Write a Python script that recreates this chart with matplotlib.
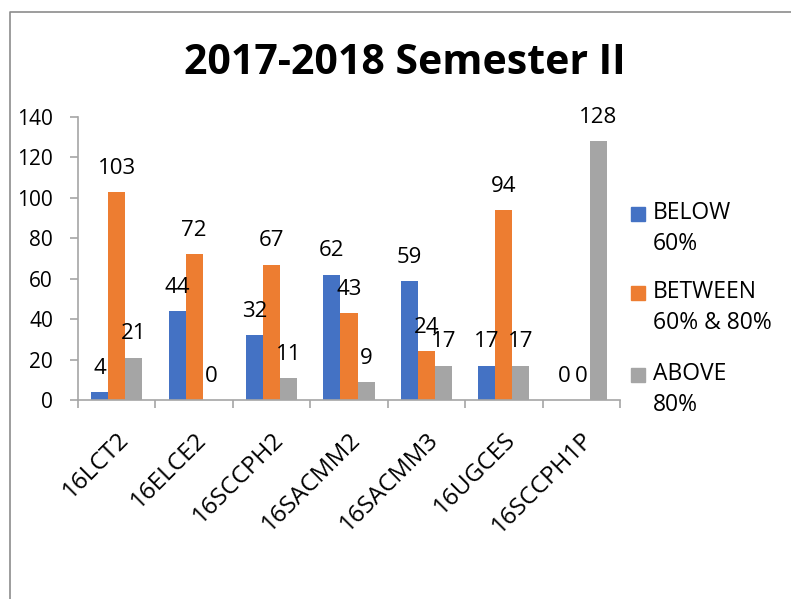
import numpy as np
import matplotlib.pyplot as plt
from matplotlib.patches import Rectangle
from matplotlib.lines import Line2D
from matplotlib.transforms import ScaledTranslation

plt.rcParams['font.family'] = ['Open Sans', 'DejaVu Sans']

courses = ['16LCT2', '16ELCE2', '16SCCPH2', '16SACMM2', '16SACMM3', '16UGCES', '16SCCPH1P']
below = [4, 44, 32, 62, 59, 17, 0]
between = [103, 72, 67, 43, 24, 94, 0]
above = [21, 0, 11, 9, 17, 17, 128]
series_names = ['BELOW\n60%', 'BETWEEN\n60% & 80%', 'ABOVE\n80%']
colors = ['#4472C4', '#ED7D31', '#A5A5A5']

W, H = 791, 599
fig = plt.figure(figsize=(W / 100, H / 100), dpi=100)
ax = fig.add_axes([78 / W, 1 - 400 / H, (620 - 78) / W, (400 - 117) / H])

x = np.arange(len(courses))
bw = 0.22
for k, vals in enumerate([below, between, above]):
    bars = ax.bar(x + (k - 1) * bw, vals, bw, color=colors[k], linewidth=0)
    for b, v in zip(bars, vals):
        ax.annotate(str(v), (b.get_x() + b.get_width() / 2, v), xytext=(0, 9.5),
                    textcoords='offset points', ha='center', va='bottom', fontsize=16)

ax.set_xlim(-0.5, len(courses) - 0.5)
ax.set_ylim(0, 140)
ax.set_yticks(range(0, 141, 20))
ax.set_xticks(np.arange(len(courses) + 1) - 0.5)
ax.set_xticklabels([])
ax.set_xticks(x, minor=True)
ax.set_xticklabels(courses, minor=True, rotation=45, ha='right', va='top',
                   rotation_mode='anchor')
shift = ScaledTranslation(7 / 100, 0, fig.dpi_scale_trans)
for t in ax.get_xticklabels(minor=True):
    t.set_transform(t.get_transform() + shift)

grey = '#A6A6A6'
for s in ['top', 'right']:
    ax.spines[s].set_visible(False)
for s in ['left', 'bottom']:
    ax.spines[s].set_color(grey)
    ax.spines[s].set_linewidth(1.2)
ax.tick_params(axis='y', direction='out', length=6, color=grey, width=1.2, labelsize=15, pad=12)
ax.tick_params(axis='x', which='major', direction='out', length=6, color=grey, width=1.2)
ax.tick_params(axis='x', which='minor', length=0, labelsize=17.5, pad=20)

fig.text(405 / W, 1 - 64 / H, '2017-2018 Semester II', ha='center', va='center',
         fontsize=29.5, fontweight='bold')

# legend drawn by hand so the swatch lines up with the first text line
for k, (name, c) in enumerate(zip(series_names, colors)):
    yc = [214, 293, 375][k]
    fig.patches.append(Rectangle((631 / W, 1 - (yc + 7) / H), 14 / W, 14 / H,
                                 transform=fig.transFigure, color=c))
    fig.text(653 / W, 1 - (yc - 13) / H, name, ha='left', va='top', fontsize=16.5,
             linespacing=1.4)

# chart border (left and top edges visible)
fig.add_artist(Line2D([10 / W, 10 / W, 1], [0, 1 - 12 / H, 1 - 12 / H],
                      transform=fig.transFigure, color='#8C8C8C', linewidth=1.2))

fig.savefig('out.png', dpi=100)
